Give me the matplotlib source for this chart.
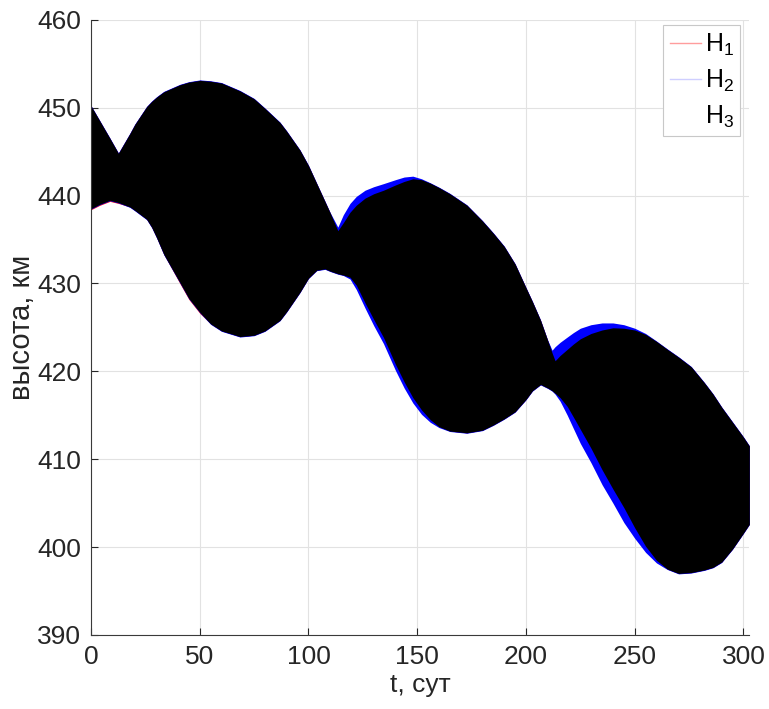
import matplotlib
matplotlib.use("Agg")
import matplotlib.pyplot as plt
from matplotlib.lines import Line2D

plt.rcParams['font.family'] = ['Liberation Sans', 'DejaVu Sans']
plt.rcParams['mathtext.default'] = 'regular'

# Sampling days of the altitude envelopes
days = [0, 4, 8.7, 12.6, 17.9, 20.2, 25.6, 27.9, 30.2, 33.5, 40.9, 45, 50.1, 55,
        60, 68.5, 75, 80, 86.9, 90, 96.1, 100, 103.8, 107.6, 110, 113.5, 116,
        119.1, 122, 126, 130, 134.5, 140, 144, 148, 152, 156, 160, 165, 172.8,
        180, 185, 190, 195, 200, 203, 206.7, 210, 212, 213.4, 215.7, 219, 221.8,
        225, 229.9, 235, 240, 245, 250, 255, 260, 265, 270.2, 276, 282, 286, 290,
        295, 300, 302.7]

# H3: upper / lower envelope of the altitude oscillation, km
h3_upper = [450.2, 448.5, 446.5, 444.8, 447.05, 448.1, 450.1, 450.7, 451.2, 451.8,
            452.6, 452.9, 453.1, 453.0, 452.8, 451.9, 451.0, 449.9, 448.3, 447.3,
            445.15, 443.4, 441.35, 439.3, 438.0, 436.0, 436.9, 438.1, 438.9, 439.7,
            440.2, 440.6, 441.2, 441.6, 441.9, 441.8, 441.4, 440.9, 440.2, 438.9,
            437.1, 435.7, 434.2, 432.2, 429.5, 427.9, 425.8, 423.5, 422.1, 421.2,
            421.8, 422.5, 423.1, 423.7, 424.3, 424.7, 424.95, 424.9, 424.7, 424.2,
            423.4, 422.5, 421.6, 420.5, 418.7, 417.4, 415.9, 414.2, 412.5, 411.5]
h3_lower = [438.5, 439.0, 439.45, 439.2, 438.7, 438.3, 437.3, 436.4, 435.2, 433.3,
            430.1, 428.3, 426.7, 425.4, 424.6, 423.95, 424.1, 424.6, 425.8, 426.8,
            429.0, 430.6, 431.5, 431.65, 431.4, 431.1, 430.95, 430.7, 429.8, 427.8,
            425.9, 423.85, 420.8, 418.8, 417.0, 415.6, 414.5, 413.7, 413.2, 413.0,
            413.3, 413.9, 414.6, 415.4, 416.8, 417.8, 418.5, 418.1, 417.8, 417.5,
            417.0, 416.0, 414.8, 413.4, 411.25, 408.8, 406.6, 404.5, 402.2, 400.1,
            398.5, 397.5, 397.0, 397.1, 397.4, 397.7, 398.3, 399.8, 401.6, 402.6]

# H2
h2_upper = [450.25, 448.55, 446.55, 444.85, 447.1, 448.15, 450.15, 450.75, 451.25, 451.85,
            452.65, 452.95, 453.15, 453.05, 452.85, 451.95, 451.05, 449.95, 448.35, 447.35,
            445.2, 443.45, 441.4, 439.35, 438.05, 436.4, 437.8, 439.1, 439.9, 440.6,
            441.0, 441.35, 441.8, 442.1, 442.2, 441.9, 441.45, 440.95, 440.25, 438.95,
            437.15, 435.75, 434.25, 432.25, 429.55, 427.95, 425.85, 423.55, 422.4, 422.8,
            423.3, 423.9, 424.4, 424.9, 425.3, 425.5, 425.5, 425.3, 424.9, 424.3,
            423.45, 422.55, 421.65, 420.55, 418.75, 417.45, 415.95, 414.25, 412.55, 411.55]
h2_lower = [438.45, 438.95, 439.4, 439.15, 438.65, 438.25, 437.25, 436.35, 435.15, 433.25,
            430.05, 428.25, 426.65, 425.35, 424.55, 423.9, 424.05, 424.55, 425.75, 426.75,
            428.95, 430.55, 431.45, 431.6, 431.35, 431.05, 430.9, 430.5, 429.3, 427.2,
            425.2, 423.15, 420.1, 418.1, 416.4, 415.1, 414.2, 413.6, 413.15, 412.95,
            413.25, 413.85, 414.55, 415.35, 416.75, 417.75, 418.45, 418.05, 417.75, 417.4,
            416.6, 415.0, 413.5, 411.8, 409.6, 407.1, 405.0, 402.8, 401.0, 399.4,
            398.2, 397.45, 396.95, 397.05, 397.35, 397.65, 398.25, 399.75, 401.55, 402.55]

# H1
h1_upper = [450.2, 448.5, 446.5, 444.8, 447.05, 448.1, 450.1, 450.7, 451.2, 451.8,
            452.6, 452.9, 453.1, 453.0, 452.8, 451.9, 451.0, 449.9, 448.3, 447.3,
            445.15, 443.4, 441.35, 439.3, 438.0, 436.0, 436.9, 438.1, 438.9, 439.7,
            440.2, 440.6, 441.2, 441.6, 441.9, 441.8, 441.4, 440.9, 440.2, 438.9,
            437.1, 435.7, 434.2, 432.2, 429.5, 427.9, 425.8, 423.5, 422.1, 421.2,
            421.8, 422.5, 423.1, 423.7, 424.3, 424.7, 424.95, 424.9, 424.7, 424.2,
            423.4, 422.5, 421.6, 420.5, 418.7, 417.4, 415.9, 414.2, 412.5, 411.5]
h1_lower = [438.38, 438.88, 439.33, 439.1, 438.7, 438.3, 437.3, 436.4, 435.2, 433.3,
            429.98, 428.18, 426.58, 425.4, 424.6, 423.95, 424.1, 424.6, 425.8, 426.8,
            429.0, 430.6, 431.5, 431.65, 431.4, 431.1, 430.95, 430.7, 429.8, 427.8,
            425.9, 423.85, 420.8, 418.8, 417.0, 415.6, 414.5, 413.7, 413.2, 413.0,
            413.3, 413.9, 414.6, 415.4, 416.8, 417.8, 418.5, 418.1, 417.8, 417.5,
            417.0, 416.0, 414.8, 413.4, 411.25, 408.8, 406.6, 404.5, 402.2, 400.1,
            398.5, 397.5, 397.0, 397.1, 397.4, 397.7, 398.3, 399.8, 401.6, 402.6]

x_ticks = [0, 50, 100, 150, 200, 250, 300]
y_ticks = [390, 400, 410, 420, 430, 440, 450, 460]
series_labels = ['H$_1$', 'H$_2$', 'H$_3$']

fig = plt.figure(figsize=(7.69, 7.09), dpi=100)
ax = fig.add_axes([0.1183, 0.1044, 0.8561, 0.8678])

ax.fill_between(days, h1_lower, h1_upper, color='#ff0000', linewidth=0)
ax.fill_between(days, h2_lower, h2_upper, color='#0000ff', linewidth=0)
ax.fill_between(days, h3_lower, h3_upper, color='#000000', linewidth=0)

ax.set_xlim(0, 302.7)
ax.set_ylim(390, 460)
ax.set_xticks(x_ticks)
ax.set_yticks(y_ticks)

ax.grid(True, color='#e2e2e2', linewidth=0.8)
ax.set_axisbelow(True)
for side in ('top', 'right'):
    ax.spines[side].set_visible(False)
for side in ('left', 'bottom'):
    ax.spines[side].set_color('#3a3a3a')
    ax.spines[side].set_linewidth(0.8)
ax.tick_params(direction='in', length=5, width=0.8, colors='#262626',
               labelsize=19, pad=7)

ax.set_xlabel('t, сут', fontsize=19, color='#262626', labelpad=3)
ax.set_ylabel('высота, км', fontsize=21, color='#262626', labelpad=1)

handles = [Line2D([], [], color='#ff9d9d', linewidth=1.0),
           Line2D([], [], color='#cfcfff', linewidth=1.0),
           Line2D([], [], color='#ffffff', linewidth=1.0)]
leg = ax.legend(handles, series_labels, loc='upper right',
                bbox_to_anchor=(0.986, 0.991), borderaxespad=0,
                fontsize=18, frameon=True, fancybox=False, framealpha=1,
                edgecolor='#c8c8c8', handlelength=1.25, handletextpad=0.15,
                borderpad=0.25, labelspacing=0.4)
leg.get_frame().set_linewidth(0.8)

fig.savefig('out.png', dpi=100)
